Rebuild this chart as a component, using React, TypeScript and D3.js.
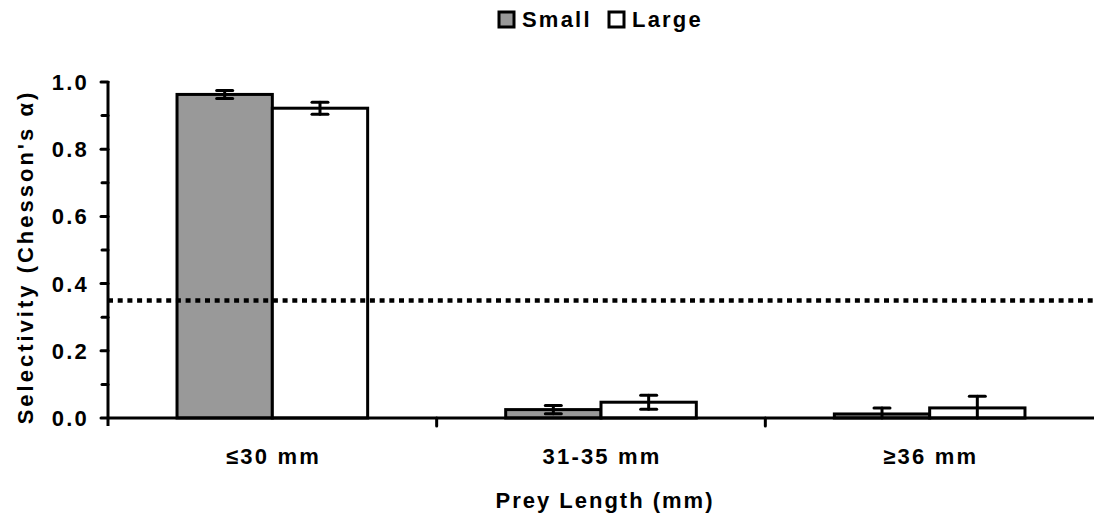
import React from "react";
import * as d3 from "d3";

const categories = ["≤30 mm", "31-35 mm", "≥36 mm"];
const seriesNames = ["Small", "Large"];
const smallValues = [0.963, 0.025, 0.012];
const smallErrors = [0.012, 0.012, 0.018];
const largeValues = [0.922, 0.047, 0.03];
const largeErrors = [0.018, 0.021, 0.035];
const yTicks = [0, 0.2, 0.4, 0.6, 0.8, 1.0];
const yMinorTicks = [0.1, 0.3, 0.5, 0.7, 0.9];
const threshold = 0.35;
const yTitle = "Selectivity (Chesson's α)";
const xTitle = "Prey Length (mm)";

const W = 1094;
const H = 524;
const M = { left: 108, right: 0, top: 82, bottom: 106 };
const FONT = "'Liberation Sans', Arial, sans-serif";
const fills = ["#999999", "#ffffff"];
const FS = 22;
const LS = 2.2;

export default function App() {
  const x = d3.scaleBand().domain(categories).range([M.left, W - M.right]).paddingInner(0);
  const y = d3.scaleLinear().domain([0, 1]).range([H - M.bottom, M.top]);
  const bw = x.bandwidth() * 0.29;
  const series = [
    { name: seriesNames[0], values: smallValues, errors: smallErrors, fill: fills[0] },
    { name: seriesNames[1], values: largeValues, errors: largeErrors, fill: fills[1] },
  ];
  const y0 = y(0);
  const capW = 8;
  return (
    <svg width={W} height={H} style={{ position: "absolute", left: 0, top: 0, background: "#fff" }} fontFamily={FONT}>
      {/* bars */}
      {series.map((s, si) =>
        categories.map((c, ci) => {
          const cx = (x(c) as number) + x.bandwidth() / 2;
          const bx = si === 0 ? cx - bw : cx;
          return (
            <rect key={`b${si}-${ci}`} x={bx} y={y(s.values[ci])} width={bw} height={y0 - y(s.values[ci])}
              fill={s.fill} stroke="#000" strokeWidth={3} />
          );
        })
      )}
      {/* error bars */}
      {series.map((s, si) =>
        categories.map((c, ci) => {
          const cx = (x(c) as number) + x.bandwidth() / 2;
          const ex = si === 0 ? cx - bw / 2 : cx + bw / 2;
          const hi = y(s.values[ci] + s.errors[ci]);
          const lo = y(Math.max(0, s.values[ci] - s.errors[ci]));
          return (
            <g key={`e${si}-${ci}`} stroke="#000" strokeWidth={3} strokeLinecap="round">
              <line x1={ex} x2={ex} y1={hi} y2={lo} />
              <line x1={ex - capW} x2={ex + capW} y1={hi} y2={hi} />
              {s.values[ci] - s.errors[ci] > 0 && <line x1={ex - capW} x2={ex + capW} y1={lo} y2={lo} />}
            </g>
          );
        })
      )}
      {/* threshold dotted line */}
      <line x1={M.left} x2={W - M.right} y1={y(threshold)} y2={y(threshold)} stroke="#000" strokeWidth={4.5} strokeDasharray="5 4.7" />
      {/* y axis */}
      <line x1={M.left} x2={M.left} y1={M.top - 1} y2={y0 + 8} stroke="#000" strokeWidth={3} />
      {yTicks.map((t) => (
        <g key={`yt${t}`}>
          <line x1={M.left - 7} x2={M.left} y1={y(t)} y2={y(t)} stroke="#000" strokeWidth={3} strokeLinecap="round" />
          <text x={89} y={y(t)} dy="0.36em" textAnchor="end" fontSize={FS} fontWeight="bold" letterSpacing={LS}>
            {t.toFixed(1)}
          </text>
        </g>
      ))}
      {yMinorTicks.map((t) => (
        <line key={`ym${t}`} x1={M.left - 6} x2={M.left} y1={y(t)} y2={y(t)} stroke="#000" strokeWidth={3} strokeLinecap="round" />
      ))}
      {/* x axis */}
      <line x1={M.left} x2={W - M.right} y1={y0} y2={y0} stroke="#000" strokeWidth={3} />
      {categories.map((c, ci) => (
        <g key={`xt${ci}`}>
          {ci > 0 && <line x1={x(c) as number} x2={x(c) as number} y1={y0} y2={y0 + 8} stroke="#000" strokeWidth={3} strokeLinecap="round" />}
          <text x={(x(c) as number) + x.bandwidth() / 2 + LS / 2} y={464} textAnchor="middle" fontSize={FS} fontWeight="bold" letterSpacing={LS}>
            {c}
          </text>
        </g>
      ))}
      {/* axis titles */}
      <text x={605} y={508} textAnchor="middle" fontSize={FS} fontWeight="bold" letterSpacing={2}>
        {xTitle}
      </text>
      <text transform={`translate(33,257) rotate(-90)`} textAnchor="middle" fontSize={FS} fontWeight="bold" letterSpacing={3}>
        {yTitle}
      </text>
      {/* legend */}
      {series.map((s, si) => {
        const lx = si === 0 ? 499 : 609;
        return (
          <g key={`lg${si}`}>
            <rect x={lx} y={12} width={15} height={15} fill={s.fill} stroke="#000" strokeWidth={3} />
            <text x={lx + 23} y={27} fontSize={FS} fontWeight="bold" letterSpacing={LS}>
              {s.name}
            </text>
          </g>
        );
      })}
    </svg>
  );
}
